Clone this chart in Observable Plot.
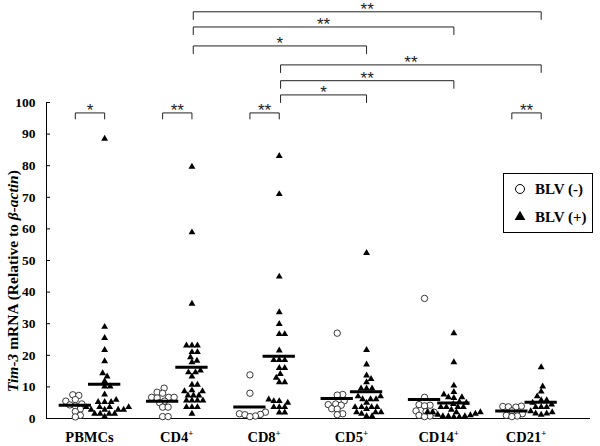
<!DOCTYPE html>
<html><head><meta charset="utf-8">
<script src="https://cdn.jsdelivr.net/npm/d3@7"></script>
<script src="https://cdn.jsdelivr.net/npm/@observablehq/plot@0.6"></script>
<style>
body{margin:0;background:#fff;}
#wrap{position:relative;width:600px;height:446px;}
#legend{position:absolute;left:503px;top:173px;}
</style></head><body><div id="wrap"></div>
<script>
// ---------- DATA ----------
const categories = ["PBMCs", "CD4", "CD8", "CD5", "CD14", "CD21"];
const categorySup = ["", "+", "+", "+", "+", "+"];
const groups = ["BLV (-)", "BLV (+)"];

const pbmcNeg = [7.5, 7.3, 6.0, 5.5, 4.6, 4.3, 4.0, 3.0, 2.2, 1.0, 0.5];
const pbmcPos = [88.5, 29.0, 25.5, 21.7, 18.1, 14.3, 13.3, 11.8, 10.1, 10.1, 7.6, 5.9, 5.2, 5.2, 5.2, 3.6, 3.6, 3.6, 3.6, 2.8, 2.8, 2.8, 2.8, 1.5, 1.5, 1.5, 1.5, 0.6];
const cd4Neg = [9.6, 8.3, 8.0, 6.7, 6.7, 6.7, 6.5, 5.5, 5.0, 3.6, 3.6, 0.6, 0.6];
const cd4Pos = [79.7, 58.9, 36.3, 23.1, 23.1, 23.1, 21.0, 21.0, 19.4, 18.3, 17.8, 15.2, 14.6, 14.6, 13.3, 10.7, 10.7, 8.9, 8.6, 8.6, 7.3, 7.3, 7.3, 5.7, 5.7, 5.7, 5.7, 3.6, 3.6, 3.6, 1.5];
const cd8Neg = [13.8, 8.0, 2.0, 1.5, 1.3, 1.2, 0.8, 0.6];
const cd8Pos = [83.1, 71.0, 44.9, 33.6, 29.9, 26.7, 26.7, 21.5, 18.5, 18.5, 18.5, 16.0, 16.0, 14.1, 12.9, 11.5, 11.5, 6.0, 5.5, 5.5, 5.0, 3.6, 3.6, 3.6, 1.9, 1.9];
const cd5Neg = [27.0, 7.6, 7.4, 5.6, 4.6, 4.4, 4.2, 3.1, 3.0, 1.5, 1.2];
const cd5Pos = [52.4, 21.7, 17.1, 13.6, 12.5, 11.5, 9.5, 9.5, 9.5, 7.0, 7.0, 6.1, 6.1, 6.1, 5.0, 3.6, 3.6, 3.6, 3.6, 3.0, 2.0, 2.0, 2.0, 1.5, 0.7, 0.7];
const cd14Neg = [38.0, 6.7, 4.4, 4.2, 4.0, 2.4, 2.2, 2.0, 1.0, 0.8, 0.6];
const cd14Pos = [27.0, 17.8, 10.4, 8.4, 7.6, 6.7, 6.7, 6.5, 5.2, 5.0, 4.6, 3.6, 3.6, 3.6, 3.6, 2.8, 2.0, 2.0, 2.0, 2.0, 1.5, 1.2, 1.0, 0.7, 0.7, 0.7, 0.5, 0.5];
const cd21Neg = [3.9, 3.8, 3.7, 3.6, 2.4, 1.5, 1.0, 0.8, 0.6];
const cd21Pos = [16.2, 10.1, 8.5, 7.0, 5.8, 5.8, 5.0, 4.4, 3.6, 3.6, 3.6, 2.3, 2.0, 1.6, 1.6, 1.2];

const negData = [pbmcNeg, cd4Neg, cd8Neg, cd5Neg, cd14Neg, cd21Neg];
const posData = [pbmcPos, cd4Pos, cd8Pos, cd5Pos, cd14Pos, cd21Pos];

const yTicks = [0, 10, 20, 30, 40, 50, 60, 70, 80, 90, 100];

// significance: within category (BLV- vs BLV+)
const withinSig = [["PBMCs", "*"], ["CD4", "**"], ["CD8", "**"], ["CD21", "**"]];
// between categories (BLV+ vs BLV+), bottom to top
const betweenSig = [["CD8", "CD5", "*"], ["CD8", "CD14", "**"], ["CD8", "CD21", "**"],
                    ["CD4", "CD5", "*"], ["CD4", "CD14", "**"], ["CD4", "CD21", "**"]];

// ---------- LAYOUT ----------
const W = 600, H = 446, mL = 46, mR = 10, mT = 102, mB = 28;
const xDomain = [-0.498, 5.733], yDomain = [0, 100];
const pxX = (W - mL - mR) / (xDomain[1] - xDomain[0]);
const pxY = (H - mT - mB) / (yDomain[1] - yDomain[0]);
const GROUP_OFFSET = 0.168, BAR_HALF = 0.185;
const WITHIN_LEVEL = 96.7;
const BETWEEN_LEVELS = [102.4, 106.9, 111.9, 117.9, 123.9, 128.7];
const DIAM = 5.2;

function dodge(vals) {
  const order = vals.map((v, i) => i).sort((a, b) => vals[a] - vals[b]);
  const placed = [], out = new Array(vals.length);
  for (const i of order) {
    const py = vals[i] * pxY;
    let best = 0;
    outer: for (let k = 0; k < 400; k++) {
      const cands = k === 0 ? [0] : [k * 0.5, -k * 0.5];
      for (const s of cands) {
        if (placed.every(q => (q.px - s) ** 2 + (q.py - py) ** 2 >= DIAM * DIAM)) { best = s; break outer; }
      }
    }
    placed.push({px: best, py});
    out[i] = best / pxX;
  }
  return out;
}

const rows = [], means = [];
categories.forEach((c, ci) => {
  [negData[ci], posData[ci]].forEach((vals, gi) => {
    const center = ci + (gi ? 1 : -1) * GROUP_OFFSET;
    const offs = dodge(vals);
    vals.forEach((v, k) => rows.push({category: c, group: groups[gi], x: center + offs[k], y: v}));
    means.push({category: c, group: groups[gi], x1: center - BAR_HALF, x2: center + BAR_HALF, y: d3.mean(vals)});
  });
});

const xPos = (cat, gi) => categories.indexOf(cat) + (gi ? 1 : -1) * GROUP_OFFSET;
const bracketRows = [], starRows = [];
function addBracket(id, x1, x2, y, tick, label) {
  bracketRows.push({id, x: x1, y: y - tick}, {id, x: x1, y}, {id, x: x2, y}, {id, x: x2, y: y - tick});
  starRows.push({x: (x1 + x2) / 2, y: y + 2.1, label});
}
withinSig.forEach(([c, label], k) => addBracket("w" + k, xPos(c, 0), xPos(c, 1), WITHIN_LEVEL, 1.9, label));
betweenSig.forEach(([a, b, label], k) => addBracket("b" + k, xPos(a, 1) + 0.015, xPos(b, 1), BETWEEN_LEVELS[k], 2.4, label));

const neg = rows.filter(d => d.group === groups[0]);
const pos = rows.filter(d => d.group === groups[1]);

const plot = Plot.plot({
  width: W, height: H,
  marginLeft: mL, marginRight: mR, marginTop: mT, marginBottom: mB,
  style: {fontFamily: "'Liberation Serif', 'Times New Roman', serif", fontWeight: "bold", fontSize: "13px", color: "#000", background: "#fff"},
  x: {domain: xDomain, axis: null},
  y: {domain: yDomain, axis: null},
  marks: [
    Plot.axisY({ticks: yTicks, tickSize: -4, tickPadding: 15, label: null, fontSize: 13.5, fontWeight: "bold", stroke: "#000"}),
    Plot.ruleX([xDomain[0]], {stroke: "#000", strokeWidth: 1}),
    Plot.ruleY([0], {stroke: "#000", strokeWidth: 1}),
    Plot.dot(neg, {x: "x", y: "y", symbol: "circle", r: 3.2, fill: "#fff", stroke: "#222", strokeWidth: 0.9}),
    Plot.dot(pos, {x: "x", y: "y", symbol: "triangle", r: 2.55, fill: "#000", stroke: "none"}),
    Plot.ruleY(means, {x1: "x1", x2: "x2", y: "y", stroke: "#000", strokeWidth: 3}),
    Plot.line(bracketRows, {x: "x", y: "y", z: "id", stroke: "#222", strokeWidth: 1}),
    Plot.text(starRows, {x: "x", y: "y", text: "label", fontFamily: "'Liberation Sans', Arial, sans-serif", fontWeight: "normal", fontSize: 17, dy: 4, fill: "#222", letterSpacing: "1px"})
  ]
});

document.getElementById("wrap").appendChild(plot);

// x category labels with superscripts, positioned by the plot's x scale
const svg = d3.select(plot);
const xs = plot.scale("x");
categories.forEach((c, ci) => {
  const t = svg.append("text")
    .attr("x", xs.apply(ci)).attr("y", 442)
    .attr("text-anchor", "middle")
    .style("font", "bold 14.5px 'Liberation Serif', serif").attr("fill", "#000");
  t.append("tspan").text(c);
  if (categorySup[ci]) t.append("tspan").attr("dy", -6).style("font-size", "9px").text(categorySup[ci]);
});

// y-axis title
const yl = svg.append("text")
  .attr("transform", `translate(18,${281}) rotate(-90)`)
  .attr("text-anchor", "middle")
  .style("font", "bold 15.5px 'Liberation Serif', serif").attr("fill", "#000");
yl.append("tspan").style("font-style", "italic").text("Tim-3");
yl.append("tspan").text(" mRNA (Relative to ");
yl.append("tspan").style("font-style", "italic").text("\u03B2-actin");
yl.append("tspan").text(")");

// legend
const lg = d3.select("#wrap").append("svg").attr("id", "legend").attr("width", 90).attr("height", 60);
lg.append("rect").attr("x", 0.5).attr("y", 0.5).attr("width", 89).attr("height", 59).attr("fill", "#fff").attr("stroke", "#000");
lg.append("circle").attr("cx", 17).attr("cy", 16).attr("r", 4.5).attr("fill", "#fff").attr("stroke", "#000").attr("stroke-width", 1);
lg.append("path").attr("d", d3.symbol(d3.symbolTriangle, 50)()).attr("transform", "translate(17,44)").attr("fill", "#000");
[groups[0], groups[1]].forEach((g, i) => {
  lg.append("text").attr("x", 32).attr("y", 21 + i * 28)
    .style("font", "bold 15px 'Liberation Serif', serif").attr("fill", "#000").text(g);
});
</script></body></html>
